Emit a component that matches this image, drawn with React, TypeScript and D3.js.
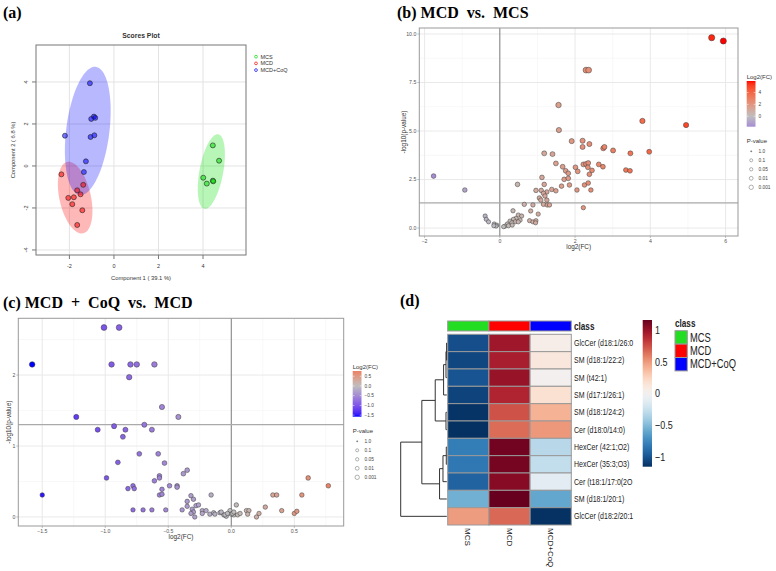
import React, { useEffect, useRef } from 'react';
import * as d3 from 'd3';

// ---------- (a) PLS-DA scores: [component 1, component 2]
const scoreGroups = ['MCS', 'MCD', 'MCD+CoQ'];
const scoresMCS = [[4.44, 0.98], [4.72, 0.25], [4.01, -0.56], [4.17, -0.84], [4.44, -0.70], [4.46, -0.73]];
const scoresMCD = [[-2.36, -0.40], [-1.38, -0.90], [-1.65, -1.16], [-1.50, -1.35], [-2.05, -1.52], [-1.80, -1.49], [-1.87, -1.82], [-1.42, -2.11], [-1.65, -2.81]];
const scoresCoQ = [[-1.08, 3.94], [-0.90, 2.35], [-1.02, 2.24], [-0.84, 2.29], [-2.20, 1.44], [-1.05, 1.38], [-0.88, 1.46], [-1.26, 0.22], [-1.35, -0.29]];
const scoreTicksX = [-2, 0, 2, 4];
const scoreTicksY = [-4, -2, 0, 2, 4];

// ---------- (b) MCD vs MCS: [log2(FC), -log10(p)]
const volcanoB = [
  [5.63, 9.81], [5.94, 9.64], [2.29, 8.14], [2.36, 8.14], [1.56, 6.34], [3.79, 5.52], [4.95, 5.31], [1.57, 5.05],
  [1.91, 4.48], [2.20, 4.50], [2.38, 4.33], [2.20, 4.18], [2.75, 4.11], [2.78, 4.18], [3.01, 4.00], [3.47, 3.85], [3.97, 3.93],
  [1.18, 3.85], [1.40, 3.81], [1.49, 3.33], [1.67, 3.16], [1.75, 2.95], [1.82, 2.82], [2.01, 3.13], [2.07, 2.92], [2.22, 3.28],
  [2.29, 3.30], [2.35, 3.35], [2.34, 3.13], [2.45, 2.97], [2.38, 2.77], [2.63, 3.28], [2.74, 3.16], [3.35, 2.99], [3.46, 2.95],
  [1.71, 2.51], [1.82, 2.56], [1.12, 2.61], [1.18, 2.25], [1.64, 2.16], [1.85, 2.22], [2.05, 1.96], [2.25, 2.22], [2.35, 2.32], [2.42, 1.96],
  [0.96, 1.94], [1.10, 1.94], [1.25, 1.86], [1.38, 1.99], [1.49, 1.92], [1.16, 1.79], [1.05, 1.55], [1.20, 1.65], [1.25, 1.44],
  [1.09, 1.44], [1.16, 1.22], [1.26, 1.19], [1.32, 1.19], [0.65, 1.22], [0.88, 1.19], [2.22, 1.05], [0.47, 2.25],
  [1.02, 0.72], [0.82, 0.88], [0.79, 0.38], [0.88, 0.32], [0.96, 0.38], [0.95, 0.27], [0.35, 0.89], [0.49, 0.67], [0.58, 0.62],
  [0.54, 0.41], [0.43, 0.50], [0.36, 0.45], [0.27, 0.36], [0.41, 0.32], [0.49, 0.32], [0.32, 0.27], [0.20, 0.21], [0.14, 0.10],
  [0.10, 0.07], [0.23, 0.12], [0.33, 0.15],
  [-0.39, 0.62], [-0.36, 0.45], [-0.30, 0.32], [-0.15, 0.21], [-0.08, 0.15], [-0.10, 0.10], [-0.16, 0.12],
  [-1.76, 2.68], [-0.93, 1.96],
];
const ticksBX = [-2, 0, 2, 4, 6];
const ticksBY = [0, 2.5, 5, 7.5, 10];
const barTicksB = [0, 2, 4];

// ---------- (c) MCD + CoQ vs MCD
const volcanoC = [
  [-1.01, 2.67], [-0.89, 2.67], [-1.58, 2.15], [-0.95, 2.15], [-0.80, 2.15], [-0.75, 2.15], [-0.61, 2.15], [-0.81, 1.97],
  [-0.55, 1.55], [-1.23, 1.41], [-0.42, 1.41], [-0.93, 1.28], [-0.69, 1.30], [-1.06, 1.23], [-0.84, 1.23], [-0.63, 1.23],
  [-0.86, 1.13], [-0.73, 0.89], [-0.58, 0.89], [-0.90, 0.77], [-0.53, 0.76], [-0.35, 0.66], [-0.38, 0.61], [-0.99, 0.55],
  [-0.57, 0.58], [-0.57, 0.55], [-0.61, 0.51], [-1.50, 0.31], [-0.82, 0.40], [-0.78, 0.44], [-0.77, 0.40], [-0.55, 0.39],
  [-0.57, 0.31], [-0.55, 0.32], [-0.49, 0.44], [-0.43, 0.44], [-0.43, 0.42], [-0.32, 0.30], [-0.30, 0.25], [-0.35, 0.22],
  [-0.35, 0.15], [-0.28, 0.16], [-0.26, 0.17], [-0.16, 0.31], [-0.78, 0.10], [-0.70, 0.10], [-0.63, 0.10], [-0.52, 0.10],
  [-0.39, 0.10], [-0.31, 0.11], [-0.30, 0.07], [-0.29, 0.00], [-0.32, 0.05], [-0.23, 0.09], [-0.20, 0.09], [-0.23, 0.05],
  [-0.17, 0.04], [-0.14, 0.06], [-0.13, 0.04], [-0.09, 0.06], [-0.06, 0.03], [-0.04, 0.01], [-0.01, 0.09], [0.00, 0.04],
  [0.04, 0.17], [0.02, 0.03], [0.05, 0.03], [-0.08, 0.07], [-0.05, 0.03], [-0.03, 0.05], [0.01, 0.05], [0.02, 0.07],
  [0.07, 0.05], [0.12, 0.09], [0.14, 0.09], [0.13, 0.04], [0.20, 0.00], [0.22, 0.05], [0.27, 0.14], [0.33, 0.31],
  [0.36, 0.31], [0.40, 0.09], [0.50, 0.05], [0.52, 0.08], [0.56, 0.31], [0.61, 0.55], [0.77, 0.44],
];
const ticksCX = [-1.5, -1, -0.5, 0, 0.5];
const ticksCY = [0, 1, 2];
const barTicksC = [-1.5, -1, -0.5, 0, 0.5];

const pBreaks = [1, 0.1, 0.05, 0.01, 0.001];
const pLabels = ['1.0', '0.1', '0.05', '0.01', '0.001'];

// ---------- (d) heatmap, row z-scores
const lipids = [
  'GlcCer (d18:1/26:0', 'SM (d18:1/22:2)', 'SM (t42:1)', 'SM (d17:1/26:1)', 'SM (d18:1/24:2)', 'Cer (d18:0/14:0)',
  'HexCer (42:1;O2)', 'HexCer (35:3;O3)', 'Cer (t18:1/17:0(2O', 'SM (d18:1/20:1)', 'GlcCer (d18:2/20:1',
];
const heatGroups = ['MCS', 'MCD', 'MCD+CoQ'];
const zMCS = [-1.024, -1.055, -1.0, -1.074, -1.138, -1.151, -0.801, -0.83, -0.935, -0.554, 0.485];
const zMCD = [0.974, 0.935, 1.0, 0.904, 0.738, 0.651, 1.121, 1.11, 1.055, 1.154, 0.665];
const zCoQ = [0.05, 0.12, 0.0, 0.17, 0.40, 0.50, -0.32, -0.28, -0.12, -0.60, -1.15];
// hclust-style merges: negative = leaf (1-based row), positive = earlier merge step
const rowMerges = [[-1, -2], [1, -3], [2, -4], [-5, -6], [3, 4], [-7, -8], [6, -9], [7, -10], [5, 8], [9, -11]];
const rowHeights = [0.2, 0.8, 3.2, 0.8, 11.5, 0.5, 3.8, 7.2, 24.8, 45.8];
const heatTicks = [-1, -0.5, 0, 0.5, 1];

const SANS = "'Liberation Sans', Arial, sans-serif";
const SERIF = "'Liberation Serif', 'DejaVu Serif', serif";
type G = d3.Selection<SVGGElement, unknown, null, undefined>;

function confEllipse(pts: number[][], n = 90) {
  const mx = d3.mean(pts, p => p[0])!, my = d3.mean(pts, p => p[1])!;
  let sxx = 0, syy = 0, sxy = 0;
  pts.forEach(([x, y]) => { sxx += (x - mx) ** 2; syy += (y - my) ** 2; sxy += (x - mx) * (y - my); });
  const k = pts.length - 1;
  sxx /= k; syy /= k; sxy /= k;
  const tr = sxx + syy, det = sxx * syy - sxy * sxy;
  const disc = Math.sqrt(tr * tr / 4 - det);
  const l1 = tr / 2 + disc, l2 = tr / 2 - disc;
  const th = Math.atan2(l1 - sxx, sxy);
  const c = Math.sqrt(5.991);
  return d3.range(n + 1).map(i => {
    const t = (i / n) * 2 * Math.PI;
    const a = c * Math.sqrt(l1) * Math.cos(t), b = c * Math.sqrt(l2) * Math.sin(t);
    return [mx + a * Math.cos(th) - b * Math.sin(th), my + a * Math.sin(th) + b * Math.cos(th)];
  });
}

function drawScores(g: G) {
  const x = d3.scaleLinear().domain([-3.5, 5.93]).range([36, 246]);
  const y = d3.scaleLinear().domain([-4.24, 5.76]).range([255, 45]);
  const sets = [scoresMCS, scoresMCD, scoresCoQ];
  const colors = ['#00e000', '#ff0000', '#0000ff'];

  g.selectAll('.gx').data(scoreTicksX).enter().append('line')
    .attr('x1', d => x(d)).attr('x2', d => x(d)).attr('y1', 45).attr('y2', 255)
    .attr('stroke', '#e3e3e3').attr('stroke-width', 1);
  g.selectAll('.gy').data(scoreTicksY).enter().append('line')
    .attr('y1', d => y(d)).attr('y2', d => y(d)).attr('x1', 36).attr('x2', 246)
    .attr('stroke', '#e3e3e3').attr('stroke-width', 1);

  const line = d3.line<number[]>().x(d => x(d[0])).y(d => y(d[1]));
  sets.forEach((s, i) => {
    g.append('path').attr('d', line(confEllipse(s))!).attr('fill', colors[i]).attr('fill-opacity', 0.28).attr('stroke', 'none');
  });
  sets.forEach((s, i) => {
    g.selectAll(null).data(s).enter().append('circle')
      .attr('cx', d => x(d[0])).attr('cy', d => y(d[1])).attr('r', 2.5)
      .attr('fill', colors[i]).attr('fill-opacity', 0.55).attr('stroke', '#222').attr('stroke-width', 0.6);
  });

  g.append('rect').attr('x', 36).attr('y', 45).attr('width', 210).attr('height', 210)
    .attr('fill', 'none').attr('stroke', '#777').attr('stroke-width', 1);

  // axes
  g.selectAll(null).data(scoreTicksX).enter().append('line')
    .attr('x1', d => x(d)).attr('x2', d => x(d)).attr('y1', 255).attr('y2', 259).attr('stroke', '#777');
  g.selectAll(null).data(scoreTicksX).enter().append('text')
    .attr('x', d => x(d)).attr('y', 268).attr('text-anchor', 'middle')
    .style('font-size', '5.5px').style('fill', '#333').text(d => d);
  g.selectAll(null).data(scoreTicksY).enter().append('line')
    .attr('y1', d => y(d)).attr('y2', d => y(d)).attr('x1', 32).attr('x2', 36).attr('stroke', '#777');
  g.selectAll(null).data(scoreTicksY).enter().append('text')
    .attr('transform', d => `translate(28,${y(d)}) rotate(-90)`).attr('text-anchor', 'middle')
    .style('font-size', '5.5px').style('fill', '#333').text(d => d);

  g.append('text').attr('x', 141).attr('y', 280).attr('text-anchor', 'middle')
    .style('font-size', '5.8px').style('fill', '#333').text('Component 1 ( 39.1 %)');
  g.append('text').attr('transform', 'translate(15,150) rotate(-90)').attr('text-anchor', 'middle')
    .style('font-size', '5.8px').style('fill', '#333').text('Component 2 ( 6.8 %)');
  g.append('text').attr('x', 141).attr('y', 38).attr('text-anchor', 'middle')
    .style('font-size', '6.8px').style('font-weight', 'bold').style('fill', '#333').text('Scores Plot');

  scoreGroups.forEach((name, i) => {
    g.append('circle').attr('cx', 256).attr('cy', 56.7 + i * 6.7).attr('r', 1.4)
      .attr('fill', 'none').attr('stroke', colors[i]).attr('stroke-width', 0.7);
    g.append('text').attr('x', 260.5).attr('y', 56.7 + i * 6.7).attr('dy', '0.35em')
      .style('font-size', '5.5px').style('fill', '#333').text(name);
  });
}

type VolcanoCfg = {
  data: number[][];
  xDom: [number, number]; yDom: [number, number];
  box: [number, number, number, number];
  xTicks: number[]; yTicks: number[];
  xFmt: (v: number) => string; yFmt: (v: number) => string;
  radius: [number, number];
  barTicks: number[]; barFmt: (v: number) => string;
  legendX: number; barTop: number;
  yTitleX: number; id: string;
};

function minors(t: number[], dom: [number, number]) {
  const step = t[1] - t[0];
  const out: number[] = [];
  for (let v = t[0] - step / 2; v <= dom[1]; v += step) if (v >= dom[0]) out.push(v);
  return out;
}

function drawVolcano(g: G, c: VolcanoCfg) {
  const [l, t, r, b] = c.box;
  const x = d3.scaleLinear().domain(c.xDom).range([l, r]);
  const y = d3.scaleLinear().domain(c.yDom).range([b, t]);
  const ext = d3.extent(c.data, d => d[0]) as [number, number];
  const m = Math.max(Math.abs(ext[0]), Math.abs(ext[1]));
  const lo = d3.interpolateLab('#bebebe', '#0000ff');
  const hi = d3.interpolateLab('#bebebe', '#ff0000');
  const color = (v: number) => (v < 0 ? lo(-v / m) : hi(v / m));
  const rad = d3.scaleLinear().domain(d3.extent(c.data, d => d[1]) as [number, number]).range(c.radius);

  // grid
  g.selectAll(null).data(minors(c.xTicks, c.xDom)).enter().append('line')
    .attr('x1', d => x(d)).attr('x2', d => x(d)).attr('y1', t).attr('y2', b).attr('stroke', '#f3f3f3').attr('stroke-width', 0.6);
  g.selectAll(null).data(minors(c.yTicks, c.yDom)).enter().append('line')
    .attr('y1', d => y(d)).attr('y2', d => y(d)).attr('x1', l).attr('x2', r).attr('stroke', '#f3f3f3').attr('stroke-width', 0.6);
  g.selectAll(null).data(c.xTicks).enter().append('line')
    .attr('x1', d => x(d)).attr('x2', d => x(d)).attr('y1', t).attr('y2', b).attr('stroke', '#e6e6e6').attr('stroke-width', 0.9);
  g.selectAll(null).data(c.yTicks).enter().append('line')
    .attr('y1', d => y(d)).attr('y2', d => y(d)).attr('x1', l).attr('x2', r).attr('stroke', '#e6e6e6').attr('stroke-width', 0.9);

  // reference lines
  g.append('line').attr('x1', x(0)).attr('x2', x(0)).attr('y1', t).attr('y2', b).attr('stroke', '#666').attr('stroke-width', 0.8);
  g.append('line').attr('x1', l).attr('x2', r).attr('y1', y(-Math.log10(0.05))).attr('y2', y(-Math.log10(0.05)))
    .attr('stroke', '#aaa').attr('stroke-width', 1.3);

  g.selectAll(null).data(c.data).enter().append('circle')
    .attr('cx', d => x(d[0])).attr('cy', d => y(d[1])).attr('r', d => rad(d[1]))
    .attr('fill', d => color(d[0])).attr('stroke', '#3a3a3a').attr('stroke-width', 0.5);

  g.append('rect').attr('x', l).attr('y', t).attr('width', r - l).attr('height', b - t)
    .attr('fill', 'none').attr('stroke', '#999').attr('stroke-width', 1);

  // axes
  g.selectAll(null).data(c.xTicks).enter().append('line')
    .attr('x1', d => x(d)).attr('x2', d => x(d)).attr('y1', b).attr('y2', b + 2).attr('stroke', '#999').attr('stroke-width', 0.6);
  g.selectAll(null).data(c.xTicks).enter().append('text')
    .attr('x', d => x(d)).attr('y', b + 5).attr('dy', '0.35em').attr('text-anchor', 'middle')
    .style('font-size', '5.2px').style('fill', '#555').text(c.xFmt);
  g.selectAll(null).data(c.yTicks).enter().append('line')
    .attr('y1', d => y(d)).attr('y2', d => y(d)).attr('x1', l - 2).attr('x2', l).attr('stroke', '#999').attr('stroke-width', 0.6);
  g.selectAll(null).data(c.yTicks).enter().append('text')
    .attr('x', l - 3).attr('y', d => y(d)).attr('dy', '0.35em').attr('text-anchor', 'end')
    .style('font-size', '5.2px').style('fill', '#555').text(c.yFmt);
  g.append('text').attr('x', (l + r) / 2).attr('y', b + 11).attr('dy', '0.35em').attr('text-anchor', 'middle')
    .style('font-size', '6.4px').style('fill', '#333').text('log2(FC)');
  g.append('text').attr('transform', `translate(${c.yTitleX},${(t + b) / 2}) rotate(-90)`).attr('text-anchor', 'middle')
    .attr('dy', '0.35em').style('font-size', '6.4px').style('fill', '#333').text('-log10(p-value)');

  // colour bar legend
  const lx = c.legendX, bt = c.barTop, bh = 45.7, bw = 8.8;
  const by = d3.scaleLinear().domain(ext).range([bt + bh, bt]);
  const grad = g.append('defs').append('linearGradient').attr('id', c.id)
    .attr('x1', 0).attr('y1', 1).attr('x2', 0).attr('y2', 0);
  d3.range(21).forEach(i => {
    const v = ext[0] + (i / 20) * (ext[1] - ext[0]);
    grad.append('stop').attr('offset', i / 20).attr('stop-color', color(v));
  });
  g.append('text').attr('x', lx).attr('y', bt - 4.5).attr('dy', '0.35em')
    .style('font-size', '6px').style('fill', '#333').text('Log2(FC)');
  g.append('rect').attr('x', lx).attr('y', bt).attr('width', bw).attr('height', bh).attr('fill', `url(#${c.id})`);
  c.barTicks.forEach(v => {
    g.append('line').attr('x1', lx).attr('x2', lx + 1.8).attr('y1', by(v)).attr('y2', by(v)).attr('stroke', '#fff').attr('stroke-width', 0.5);
    g.append('line').attr('x1', lx + bw - 1.8).attr('x2', lx + bw).attr('y1', by(v)).attr('y2', by(v)).attr('stroke', '#fff').attr('stroke-width', 0.5);
    g.append('text').attr('x', lx + bw + 3).attr('y', by(v)).attr('dy', '0.35em')
      .style('font-size', '4.8px').style('fill', '#444').text(c.barFmt(v));
  });

  // p-value size legend
  const py0 = bt + bh + 14.6;
  const pSize = d3.scaleSqrt().domain([0, 3]).range([0.6, 2.2]);
  g.append('text').attr('x', lx).attr('y', py0).attr('dy', '0.35em')
    .style('font-size', '6px').style('fill', '#333').text('P-value');
  pBreaks.forEach((p, i) => {
    const yy = py0 + 10 + i * 9;
    g.append('circle').attr('cx', lx + 4.5).attr('cy', yy).attr('r', pSize(-Math.log10(p)))
      .attr('fill', i === 0 ? '#666' : 'none').attr('stroke', '#666').attr('stroke-width', 0.5);
    g.append('text').attr('x', lx + bw + 3).attr('y', yy).attr('dy', '0.35em')
      .style('font-size', '4.8px').style('fill', '#444').text(pLabels[i]);
  });
}

function drawHeatmap(g: G) {
  const sx = 0.78;
  const cols = d3.scaleBand().domain(heatGroups).range([447.7, 571.3]);
  const rows = d3.scaleBand().domain(lipids).range([334.3, 525]);
  const heatColor = d3.scaleSequential((t: number) => d3.interpolateRdBu(1 - t)).domain([-1.155, 1.155]);
  const classColors = ['#22dd22', '#ff0000', '#0000ff'];
  const vals = [zMCS, zMCD, zCoQ];

  const txt = (x: number, y: number, s: string, size: number, bold = false) =>
    g.append('text').attr('transform', `translate(${x},${y}) scale(${sx},1)`).attr('dy', '0.35em')
      .style('font-size', `${size}px`).style('font-weight', bold ? 'bold' : 'normal').style('fill', '#222').text(s);

  // class annotation bar
  heatGroups.forEach((gName, j) => {
    g.append('rect').attr('x', cols(gName)!).attr('y', 321).attr('width', cols.bandwidth()).attr('height', 10)
      .attr('fill', classColors[j]).attr('stroke', '#999').attr('stroke-width', 1);
  });
  txt(574, 326, 'class', 10.5, true);

  // cells
  heatGroups.forEach((gName, j) => {
    g.selectAll(null).data(lipids).enter().append('rect')
      .attr('x', cols(gName)!).attr('y', d => rows(d)!).attr('width', cols.bandwidth()).attr('height', rows.bandwidth())
      .attr('fill', (d, i) => heatColor(vals[j][i])).attr('stroke', '#999').attr('stroke-width', 1);
  });
  lipids.forEach(name => txt(574, rows(name)! + rows.bandwidth() / 2, name, 9));

  heatGroups.forEach(name => {
    g.append('text').attr('transform', `translate(${cols(name)! + cols.bandwidth() / 2},528) rotate(90)`)
      .attr('dy', '0.35em').style('font-size', '8px').style('fill', '#222').text(name);
  });

  // row dendrogram
  const hx = d3.scaleLinear().domain([0, d3.max(rowHeights)!]).range([446.8, 400.7]);
  const node: { x: number; y: number }[] = [];
  const pos = (k: number) => (k < 0
    ? { x: hx(0), y: rows(lipids[-k - 1])! + rows.bandwidth() / 2 }
    : node[k - 1]);
  const path = d3.path();
  rowMerges.forEach(([a, b], i) => {
    const pa = pos(a), pb = pos(b), xm = hx(rowHeights[i]);
    path.moveTo(pa.x, pa.y); path.lineTo(xm, pa.y); path.lineTo(xm, pb.y); path.lineTo(pb.x, pb.y);
    node.push({ x: xm, y: (pa.y + pb.y) / 2 });
  });
  g.append('path').attr('d', path.toString()).attr('fill', 'none').attr('stroke', '#333').attr('stroke-width', 1);

  // colour key
  const ky = d3.scaleLinear().domain([-1.155, 1.155]).range([466.7, 320]);
  const grad = g.append('defs').append('linearGradient').attr('id', 'heatkey')
    .attr('x1', 0).attr('y1', 1).attr('x2', 0).attr('y2', 0);
  d3.range(41).forEach(i => grad.append('stop').attr('offset', i / 40)
    .attr('stop-color', heatColor(-1.155 + (i / 40) * 2.31)));
  g.append('rect').attr('x', 642.7).attr('y', 320).attr('width', 9.3).attr('height', 146.7).attr('fill', 'url(#heatkey)');
  heatTicks.forEach(v => txt(655, ky(v), v === 0 ? '0' : d3.format('.1~f')(v).replace('-', '\u2212'), 11.5));

  // class legend
  txt(675, 323.5, 'class', 10.5, true);
  heatGroups.forEach((name, j) => {
    g.append('rect').attr('x', 675).attr('y', 330.7 + j * 13.4).attr('width', 12.3).attr('height', 13.4)
      .attr('fill', classColors[j]).attr('stroke', '#999').attr('stroke-width', 1);
    txt(690, 337.4 + j * 13.4, name, 12);
  });
}

function App() {
  const svgRef = useRef<SVGSVGElement>(null);

  useEffect(() => {
    if (!svgRef.current) return;
    const svg = d3.select(svgRef.current);
    svg.selectAll('*').remove();
    const root = svg.append('g').style('font-family', SANS) as unknown as G;

    drawScores(root.append('g'));
    drawVolcano(root.append('g'), {
      data: volcanoB, xDom: [-2.14, 6.33], yDom: [-0.41, 10.31], box: [419.3, 28, 738, 236],
      xTicks: ticksBX, yTicks: ticksBY, xFmt: d3.format('d'), yFmt: d3.format('.1f'),
      radius: [2.1, 3.1], barTicks: barTicksB, barFmt: d3.format('d'),
      legendX: 746.7, barTop: 81, yTitleX: 404, id: 'gradB',
    });
    drawVolcano(root.append('g'), {
      data: volcanoC, xDom: [-1.69, 0.892], yDom: [-0.127, 2.8], box: [18.3, 318.3, 343.7, 526],
      xTicks: ticksCX, yTicks: ticksCY, xFmt: d3.format('.1f'), yFmt: d3.format('d'),
      radius: [2.2, 2.9], barTicks: barTicksC, barFmt: d3.format('.1f'),
      legendX: 352.7, barTop: 371, yTitleX: 8.5, id: 'gradC',
    });
    drawHeatmap(root.append('g'));

    // panel letters and titles
    const titles: [number, number, string][] = [
      [3, 18, '(a)'], [397, 18, '(b) MCD  vs.  MCS'], [3, 308, '(c) MCD  +  CoQ  vs.  MCD'], [400, 306, '(d)'],
    ];
    titles.forEach(([x, y, s]) => {
      svg.append('text').attr('x', x).attr('y', y).style('font-family', SERIF).style('font-weight', 'bold')
        .style('font-size', '16px').style('white-space', 'pre').style('fill', '#000').text(s);
    });
  }, []);

  return (
    <svg ref={svgRef} width={776} height={571}
      style={{ position: 'absolute', left: 0, top: 0, background: '#fff' }} />
  );
}

export default App;
